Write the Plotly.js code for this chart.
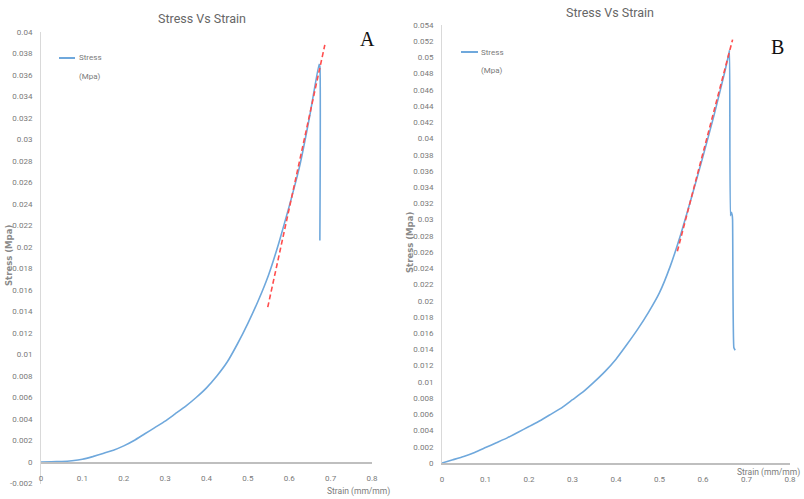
<!DOCTYPE html>
<html>
<head>
<meta charset="utf-8">
<script src="https://cdn.plot.ly/plotly-3.0.1.min.js"></script>
<style>html,body{margin:0;padding:0;background:#fff;}#chart{width:804px;height:499px;}</style>
</head>
<body>
<div id="chart"></div>
<script>
// Panel A data (strain mm/mm, stress MPa)
const strainA = [0, 0.025, 0.05, 0.075, 0.1, 0.125, 0.15, 0.175, 0.2, 0.225, 0.25, 0.275, 0.3, 0.325, 0.35, 0.375, 0.4, 0.425, 0.45, 0.475, 0.5, 0.525, 0.55, 0.575, 0.6, 0.625, 0.65, 0.672, 0.674, 0.674];
const stressA = [0, 0.00002, 0.00005, 0.00012, 0.00025, 0.0005, 0.0008, 0.0011, 0.0015, 0.0020, 0.0026, 0.0032, 0.0038, 0.0045, 0.0052, 0.0060, 0.0069, 0.0080, 0.0093, 0.0110, 0.0129, 0.0150, 0.0174, 0.0204, 0.0238, 0.0275, 0.0323, 0.0370, 0.0368, 0.0206];
const fitStrainA = [0.548, 0.686];
const fitStressA = [0.0144, 0.0388];

// Panel B data
const strainB = [0, 0.025, 0.05, 0.075, 0.1, 0.125, 0.15, 0.175, 0.2, 0.225, 0.25, 0.275, 0.3, 0.325, 0.35, 0.375, 0.4, 0.425, 0.45, 0.475, 0.5, 0.525, 0.55, 0.575, 0.6, 0.625, 0.65, 0.66, 0.661, 0.663, 0.665, 0.667, 0.668, 0.671, 0.674];
const stressB = [0, 0.0004, 0.0008, 0.0013, 0.0019, 0.0025, 0.0031, 0.0038, 0.0045, 0.0052, 0.0060, 0.0068, 0.0078, 0.0088, 0.0100, 0.0113, 0.0128, 0.0146, 0.0165, 0.0186, 0.0210, 0.0243, 0.0284, 0.0330, 0.0378, 0.0428, 0.0482, 0.0506, 0.0509, 0.0305, 0.0309, 0.0306, 0.0300, 0.0142, 0.0139];
const fitStrainB = [0.541, 0.668];
const fitStressB = [0.0261, 0.0522];

// Tick labels
const xTickText = ["0", "0.1", "0.2", "0.3", "0.4", "0.5", "0.6", "0.7", "0.8"];
const yTickTextA = ["-0.002", "0", "0.002", "0.004", "0.006", "0.008", "0.01", "0.012", "0.014", "0.016", "0.018", "0.02", "0.022", "0.024", "0.026", "0.028", "0.03", "0.032", "0.034", "0.036", "0.038", "0.04"];
const yTickTextB = ["0", "0.002", "0.004", "0.006", "0.008", "0.01", "0.012", "0.014", "0.016", "0.018", "0.02", "0.022", "0.024", "0.026", "0.028", "0.03", "0.032", "0.034", "0.036", "0.038", "0.04", "0.042", "0.044", "0.046", "0.048", "0.05", "0.052", "0.054"];

const xTickVals = xTickText.map(Number);
const yTickValsA = yTickTextA.map(Number);
const yTickValsB = yTickTextB.map(Number);

const W = 804, H = 499;
const px = v => v / W;
const py = v => 1 - v / H;

const SANS = "Roboto, sans-serif";
const tickFont = {family: SANS, size: 8, color: "#7a7a7a"};
const blue = "#6fa8dc";
const red = "#ff4d4d";

const traces = [
  {x: strainA, y: stressA, type: "scatter", mode: "lines", name: "Stress (Mpa)", line: {color: blue, width: 1.6, shape: "spline", smoothing: 0.4}, xaxis: "x", yaxis: "y", showlegend: false},
  {x: fitStrainA, y: fitStressA, type: "scatter", mode: "lines", name: "fit", line: {color: red, width: 1.6, dash: "5px,3px"}, xaxis: "x", yaxis: "y", showlegend: false},
  {x: strainB, y: stressB, type: "scatter", mode: "lines", name: "Stress (Mpa)", line: {color: blue, width: 1.6, shape: "spline", smoothing: 0.4}, xaxis: "x2", yaxis: "y2", showlegend: false},
  {x: fitStrainB, y: fitStressB, type: "scatter", mode: "lines", name: "fit", line: {color: red, width: 1.6, dash: "5px,3px"}, xaxis: "x2", yaxis: "y2", showlegend: false}
];

const xCommon = {range: [0, 0.8], tickvals: xTickVals, ticktext: xTickText, tickfont: tickFont, showgrid: false, zeroline: false, showline: true, linecolor: "#bfbfbf", linewidth: 1.5, ticks: "", fixedrange: true};
const yCommon = {tickfont: tickFont, showgrid: false, zeroline: false, showline: true, linecolor: "#d9d9d9", linewidth: 1, ticks: "", ticklabelstandoff: 6, fixedrange: true};

const ann = (text, x, y, opts) => Object.assign({text: text, x: px(x), y: py(y), xref: "paper", yref: "paper", showarrow: false, xanchor: "center", yanchor: "middle"}, opts);
const smallFont = {family: SANS, size: 8, color: "#7a7a7a"};

const layout = {
  width: W, height: H,
  margin: {l: 0, r: 0, t: 0, b: 0},
  paper_bgcolor: "#fff", plot_bgcolor: "#fff",
  showlegend: false,
  xaxis: Object.assign({}, xCommon, {domain: [px(41), px(372)], anchor: "free", position: py(462), ticklabelstandoff: 8}),
  yaxis: Object.assign({}, yCommon, {domain: [py(483.5), py(32)], range: [-0.002, 0.04], tickvals: yTickValsA, ticktext: yTickTextA, anchor: "x"}),
  xaxis2: Object.assign({}, xCommon, {domain: [px(442), px(790)], anchor: "y2", ticklabelstandoff: 8}),
  yaxis2: Object.assign({}, yCommon, {domain: [py(463), py(25)], range: [0, 0.054], tickvals: yTickValsB, ticktext: yTickTextB, anchor: "x2"}),
  shapes: [
    {type: "line", xref: "paper", yref: "paper", x0: px(59), x1: px(75), y0: py(58), y1: py(58), line: {color: blue, width: 2}},
    {type: "line", xref: "paper", yref: "paper", x0: px(461), x1: px(478), y0: py(52), y1: py(52), line: {color: blue, width: 2}}
  ],
  annotations: [
    ann("Stress Vs Strain", 202, 18, {font: {family: SANS, size: 12.5, color: "#666"}}),
    ann("Stress Vs Strain", 610, 12, {font: {family: SANS, size: 12.5, color: "#666"}}),
    ann("A", 367, 39, {font: {family: "Liberation Serif, serif", size: 20, color: "#111"}}),
    ann("B", 777, 47, {font: {family: "Liberation Serif, serif", size: 20, color: "#111"}}),
    ann("Stress", 77, 57, {xanchor: "left", font: smallFont}),
    ann("(Mpa)", 77, 76, {xanchor: "left", font: smallFont}),
    ann("Stress", 479, 52, {xanchor: "left", font: smallFont}),
    ann("(Mpa)", 479, 70, {xanchor: "left", font: smallFont}),
    ann("<b>Stress (Mpa)</b>", 9, 256, {textangle: -90, font: {family: "DejaVu Sans, sans-serif", size: 8.5, color: "#8a8a8a"}}),
    ann("<b>Stress (Mpa)</b>", 410, 242, {textangle: -90, font: {family: "DejaVu Sans, sans-serif", size: 8.5, color: "#8a8a8a"}}),
    ann("Strain (mm/mm)", 358, 491, {font: {family: SANS, size: 8.5, color: "#7a7a7a"}}),
    ann("Strain (mm/mm)", 802, 472, {xanchor: "right", font: {family: SANS, size: 8.5, color: "#7a7a7a"}})
  ]
};

Plotly.newPlot("chart", traces, layout, {displayModeBar: false, staticPlot: true});
</script>
</body>
</html>
